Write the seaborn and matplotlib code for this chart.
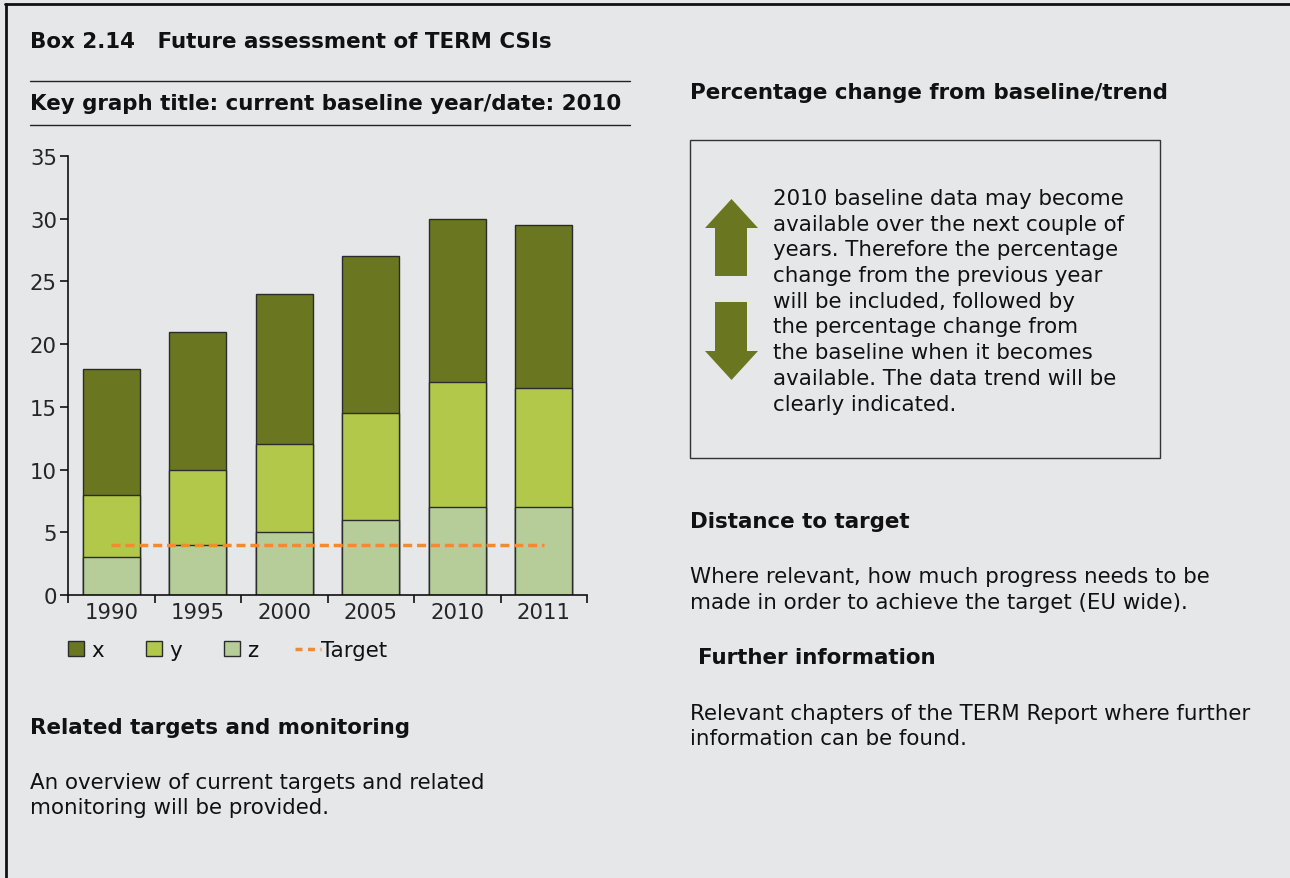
import matplotlib
matplotlib.use("Agg")
import matplotlib.pyplot as plt
import numpy as np
import pandas as pd
import seaborn as sns
from matplotlib.lines import Line2D
from matplotlib.patches import Patch, Polygon, Rectangle

# chart values
years = ["1990", "1995", "2000", "2005", "2010", "2011"]
x_vals = [10, 11, 12, 12.5, 13, 13]
y_vals = [5, 6, 7, 8.5, 10, 9.5]
z_vals = [3, 4, 5, 6, 7, 7]
target = [4, 4, 4, 4, 4, 4]
y_ticks = [0, 5, 10, 15, 20, 25, 30, 35]

BG = "#e6e7e9"
DARK = "#6b7720"
MID = "#b2c84a"
LIGHT = "#b6cd9a"
ORANGE = "#f28a30"
EDGE = "#2b2b2b"

W, H = 1290, 879
FS = 15.4

sns.set_style("ticks")
plt.rcParams["font.family"] = ["DejaVu Sans"]
plt.rcParams["text.color"] = "#111111"

fig = plt.figure(figsize=(W / 100, H / 100), dpi=100, facecolor=BG)


def fx(px):
    return px / W


def fy(py):
    return 1 - py / H


def label(px, py, s, size=FS, bold=False, ha="left"):
    fig.text(fx(px), fy(py), s, fontsize=size, fontweight="bold" if bold else "normal",
             ha=ha, va="center")


def hline(x0, x1, py, lw=1.0, color="#222222"):
    fig.add_artist(Line2D([fx(x0), fx(x1)], [fy(py), fy(py)], color=color, lw=lw,
                          transform=fig.transFigure))


# frame of the box (top and left only)
fig.add_artist(Line2D([fx(5), fx(W)], [fy(5), fy(5)], color="#111111", lw=2, transform=fig.transFigure))
fig.add_artist(Line2D([fx(5.5), fx(5.5)], [fy(5), fy(H)], color="#111111", lw=2, transform=fig.transFigure))

label(30, 42, "Box 2.14   Future assessment of TERM CSIs", bold=True)
hline(30, 630, 82)
label(30, 104, "Key graph title: current baseline year/date: 2010", bold=True)
hline(30, 630, 126)

# bar chart
ax = fig.add_axes([fx(68), fy(596), fx(587) - fx(68), fy(157) - fy(596)])
ax.set_facecolor(BG)
df = pd.DataFrame({"year": years, "x": x_vals, "y": y_vals, "z": z_vals})
df["xyz"] = df["x"] + df["y"] + df["z"]
df["yz"] = df["y"] + df["z"]
for col, colour in [("xyz", DARK), ("yz", MID), ("z", LIGHT)]:
    sns.barplot(data=df, x="year", y=col, color=colour, width=0.66, edgecolor=EDGE,
                linewidth=1, errorbar=None, saturation=1, ax=ax)
ax.plot(range(len(years)), target, color=ORANGE, lw=2.5, dashes=(2.6, 1.4))

ax.set_xlim(-0.5, len(years) - 0.5)
ax.set_ylim(0, 35)
ax.set_yticks(y_ticks)
ax.set_xlabel("")
ax.set_ylabel("")
ax.set_xticks(np.arange(-0.5, len(years)), minor=True)
ax.tick_params(axis="x", which="major", length=0, labelsize=15.3, pad=5)
ax.tick_params(axis="x", which="minor", length=6, width=1.2, color="#111111")
ax.tick_params(axis="y", length=6, width=1.2, labelsize=15.3, pad=2, color="#111111")
for side in ["top", "right"]:
    ax.spines[side].set_visible(False)
for side in ["left", "bottom"]:
    ax.spines[side].set_linewidth(1.2)
    ax.spines[side].set_color("#111111")

# legend: squares for the stacks, a separate entry for the dashed target
patches = [
    Patch(facecolor=DARK, edgecolor=EDGE, lw=1),
    Patch(facecolor=MID, edgecolor=EDGE, lw=1),
    Patch(facecolor=LIGHT, edgecolor=EDGE, lw=1),
]
fig.legend(patches, ["x", "y", "z"], loc="center left",
           bbox_to_anchor=(fx(68), fy(651)), ncol=3, frameon=False, fontsize=FS,
           handlelength=0.75, handleheight=0.75, handletextpad=0.33, columnspacing=1.98,
           borderaxespad=0, borderpad=0)
fig.legend([Line2D([0], [0], color=ORANGE, lw=2.5, dashes=(2.0, 1.6))], ["Target"],
           loc="center left", bbox_to_anchor=(fx(295), fy(651)), frameon=False, fontsize=FS,
           handlelength=1.2, handletextpad=0.02, borderaxespad=0, borderpad=0)

label(30, 728, "Related targets and monitoring", bold=True)
label(30, 783, "An overview of current targets and related")
label(30, 808, "monitoring will be provided.")

# right column
label(690, 93, "Percentage change from baseline/trend", bold=True)
fig.add_artist(Rectangle((fx(690), fy(459)), fx(1160) - fx(690), fy(141) - fy(459),
                         transform=fig.transFigure, fill=False, edgecolor="#333333", lw=1))

up = [(731.5, 200), (758, 229), (747, 229), (747, 277), (715, 277), (715, 229), (705, 229)]
down = [(715, 303), (747, 303), (747, 352), (758, 352), (731.5, 381), (705, 352), (715, 352)]
for shape in (up, down):
    fig.add_artist(Polygon([(fx(a), fy(b)) for a, b in shape], closed=True,
                           transform=fig.transFigure, facecolor=DARK, edgecolor="none"))

box_lines = [
    "2010 baseline data may become",
    "available over the next couple of",
    "years. Therefore the percentage",
    "change from the previous year",
    "will be included, followed by",
    "the percentage change from",
    "the baseline when it becomes",
    "available. The data trend will be",
    "clearly indicated.",
]
for i, line in enumerate(box_lines):
    label(773, 199 + i * 25.7, line)

label(690, 522, "Distance to target", bold=True)
label(690, 577, "Where relevant, how much progress needs to be")
label(690, 603, "made in order to achieve the target (EU wide).")

label(698, 658, "Further information", bold=True)
label(690, 714, "Relevant chapters of the TERM Report where further")
label(690, 739, "information can be found.")

fig.savefig("out.png", dpi=100, facecolor=BG)
